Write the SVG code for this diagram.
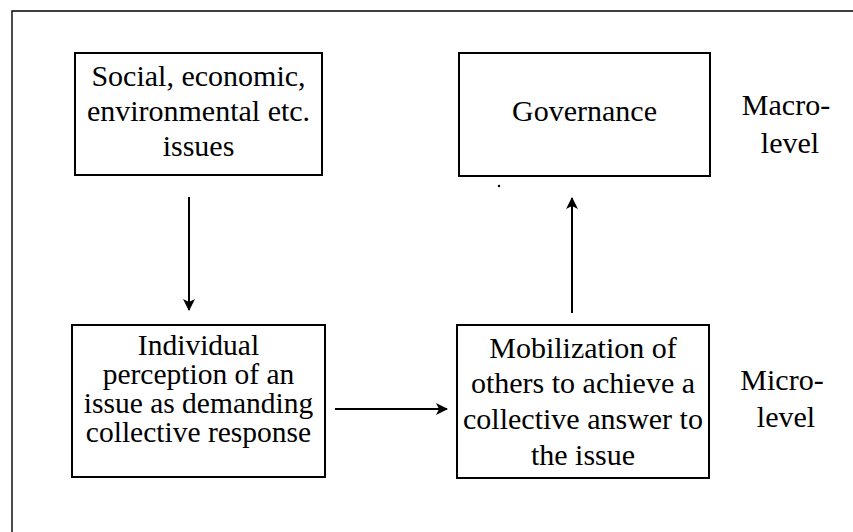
<svg xmlns="http://www.w3.org/2000/svg" width="853" height="532" viewBox="0 0 853 532">
  <style>
    .frame { fill: none; stroke: #000; stroke-width: 1.4; }
    .box { fill: #fff; stroke: #000; stroke-width: 2; }
    .label { font-family: "Liberation Serif", "Times New Roman", serif; font-size: 30px; fill: #000; text-anchor: middle; }
    .tight { font-size: 29.5px; }
    .link { stroke: #000; stroke-width: 2; fill: none; }
  </style>
  <defs>
    <marker id="arrowhead" viewBox="0 0 12 12" refX="11" refY="6" markerWidth="12" markerHeight="12" markerUnits="userSpaceOnUse" orient="auto">
      <path d="M0,0 L12,6 L0,12 L3,6 Z" fill="#000"/>
    </marker>
  </defs>

  <rect width="853" height="532" fill="#fff"/>

  <!-- outer frame (top and left edges) -->
  <path class="frame" d="M12,532 L12,11 L853,11"/>

  <g id="issues">
    <rect class="box" x="75" y="53" width="247" height="122"/>
    <text class="label" x="198.5" y="86">Social, economic,</text>
    <text class="label" x="198.5" y="121">environmental etc.</text>
    <text class="label" x="198.5" y="156">issues</text>
  </g>

  <g id="governance">
    <rect class="box" x="459" y="53" width="251" height="123"/>
    <text class="label" x="584.5" y="121">Governance</text>
  </g>

  <g id="perception">
    <rect class="box" x="72" y="325" width="253" height="152"/>
    <text class="label tight" x="198.5" y="355">Individual</text>
    <text class="label tight" x="198.5" y="384">perception of an</text>
    <text class="label tight" x="198.5" y="413">issue as demanding</text>
    <text class="label tight" x="198.5" y="442">collective response</text>
  </g>

  <g id="mobilization">
    <rect class="box" x="457" y="325" width="252" height="153"/>
    <text class="label" x="583" y="358">Mobilization of</text>
    <text class="label" x="583" y="393">others to achieve a</text>
    <text class="label" x="583" y="429">collective answer to</text>
    <text class="label" x="583" y="465">the issue</text>
  </g>

  <g id="macro-level">
    <text class="label" x="786" y="115">Macro-</text>
    <text class="label" x="790" y="153">level</text>
  </g>

  <g id="micro-level">
    <text class="label" x="782" y="390">Micro-</text>
    <text class="label" x="786" y="427">level</text>
  </g>

  <g id="connectors">
    <line class="link" x1="189" y1="197" x2="189" y2="310" marker-end="url(#arrowhead)"/>
    <line class="link" x1="335" y1="409" x2="447" y2="409" marker-end="url(#arrowhead)"/>
    <line class="link" x1="572" y1="313" x2="572" y2="198" marker-end="url(#arrowhead)"/>
  </g>

  <circle cx="499" cy="186" r="1.2" fill="#000"/>
</svg>
